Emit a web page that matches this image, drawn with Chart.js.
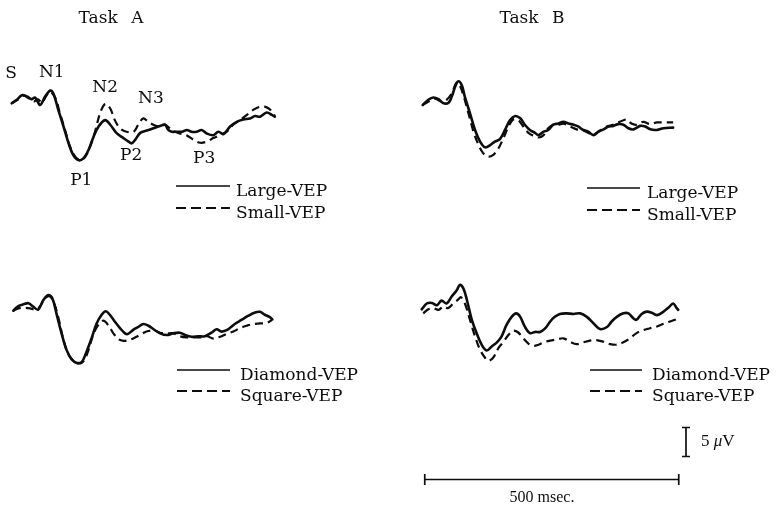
<!DOCTYPE html>
<html><head><meta charset="utf-8">
<script src="https://cdn.jsdelivr.net/npm/chart.js@4.4.0/dist/chart.umd.min.js"></script>
<style>html,body{margin:0;padding:0;background:#fff;}#wrap{position:relative;width:776px;height:508px;}canvas{display:block;}</style>
</head><body><div id="wrap"><canvas id="c" width="776" height="508"></canvas></div>
<script>
// ---------- data (time in ms after stimulus, amplitude in µV, negative = up) ----------
const TITLES = ['Task A', 'Task B'];
const LEGEND_SIZE = ['Large-VEP', 'Small-VEP'];
const LEGEND_SHAPE = ['Diamond-VEP', 'Square-VEP'];
const PEAK_NAMES = ['S', 'N1', 'N2', 'N3', 'P1', 'P2', 'P3'];
const PEAK_T  = [-1, 79, 184, 274, 137, 235, 379];
const PEAK_UV = [-4.4, -4.6, -1.9, 0, 14.1, 9.8, 10.3];
const BAR_MS = 500;
const BAR_UV = 5;

const largeA_t  = [0,10,20,30,39,46,56,66,76,82,92,102,112,121,131,141,151,161,171,184,194,207,220,230,236,243,253,266,279,292,302,308,315,325,335,345,354,364,374,384,397,407,417,430,443,456,469,479,489,502,512,518];
const largeA_uv = [0,-0.6,-1.4,-1.2,-0.7,-1.0,0.3,-1.2,-2.2,-1.7,1.2,4.0,6.9,8.9,9.8,9.5,8.1,5.8,4.0,2.9,3.7,5.2,6.0,6.6,6.9,6.3,5.1,4.7,4.3,3.9,3.7,4.6,4.9,4.9,4.9,4.6,4.9,4.9,4.6,5.2,5.5,4.9,5.3,4.0,3.2,2.8,2.6,2.2,2.3,1.6,2.0,2.3];
const smallA_t  = [0,13,23,33,43,52,59,69,75,85,95,105,115,125,135,144,154,164,174,184,194,203,213,226,240,249,259,269,279,289,302,315,331,344,358,371,384,397,410,423,436,449,463,476,489,502,512,518];
const smallA_uv = [0,-0.7,-1.3,-0.9,-0.3,-0.7,-0.1,-1.4,-2.0,-1.1,1.7,4.6,7.5,9.2,9.8,9.3,7.5,4.9,1.7,0.1,0.9,2.9,4.3,4.9,4.9,3.7,2.6,3.2,3.7,4.0,3.7,4.6,5.2,5.5,6.3,6.8,6.6,6.0,5.5,4.9,3.7,2.9,2.0,1.1,0.6,0.7,1.4,2.2];

const largeB_t  = [0,11,21,31,41,51,57,64,70,77,83,93,103,113,123,133,142,152,162,172,182,192,201,211,221,228,238,247,257,267,277,287,297,306,316,326,336,346,356,366,375,385,395,405,415,428,438,448,461,474,493];
const largeB_uv = [0,-0.9,-1.3,-1.0,-0.3,-0.4,-1.4,-3.2,-4.1,-3.4,-1.4,1.4,4.3,6.3,7.3,6.9,6.3,5.9,4.3,2.6,1.9,2.3,3.4,4.3,4.8,5.2,4.6,4.3,3.4,3.2,2.9,3.2,3.4,3.7,4.3,4.6,5.2,4.6,4.2,3.7,3.6,3.3,3.4,4.0,4.2,3.6,3.7,4.2,4.3,4.0,3.9];
const smallB_t  = [0,14,24,37,47,57,67,73,80,90,100,110,119,129,139,149,159,169,178,188,198,208,218,228,238,247,257,267,277,290,303,316,329,339,349,362,375,388,402,411,421,434,448,461,474,493];
const smallB_uv = [0,-0.7,-1.1,-0.6,-0.9,-2.0,-3.9,-3.4,-1.7,1.4,4.6,6.9,8.3,8.9,8.6,7.5,5.7,3.7,2.5,2.6,3.7,4.8,5.3,5.6,5.2,4.0,3.4,3.4,3.2,3.7,4.2,4.4,4.9,5.0,4.4,3.7,3.4,2.9,2.5,3.2,3.4,2.9,3.3,3.0,3.0,3.0];

const diamondA_t  = [0,10,20,30,39,49,59,69,77,85,95,105,115,125,135,144,154,164,174,182,190,200,210,220,226,236,246,256,266,276,289,302,315,328,338,351,364,377,390,400,410,423,436,449,462,476,486,495,505,510];
const diamondA_uv = [0,-0.8,-1.1,-1.3,-0.7,-0.2,-1.8,-2.7,-2.1,0.5,3.9,6.8,8.4,9.0,8.8,7.1,4.8,2.2,0.7,0.1,0.7,1.9,3.0,3.9,4.0,3.3,2.8,2.3,2.6,3.2,3.9,4.2,3.9,3.8,4.2,4.5,4.4,4.4,3.8,3.2,3.6,3.2,2.3,1.6,0.9,0.3,0.2,0.7,1.1,1.5];
const squareA_t  = [0,10,20,33,43,52,62,71,79,89,98,108,118,130,139,148,157,167,177,187,197,207,217,226,236,249,262,276,289,302,315,328,341,354,367,381,394,407,420,433,446,459,472,486,499,509];
const squareA_uv = [0,-0.4,-0.5,-0.4,-0.2,-0.7,-2.1,-2.5,-1.6,1.3,4.8,7.4,8.6,9.1,8.6,6.8,4.2,2.5,1.7,2.5,3.9,4.9,5.2,5.1,4.8,4.2,3.6,3.4,3.8,3.9,3.9,4.4,4.6,4.6,4.6,4.4,4.8,4.5,4.0,3.6,3.0,2.6,2.3,2.2,2.1,1.6];

const diamondB_t  = [0,10,20,30,39,49,59,69,75,82,89,98,108,118,128,138,148,157,167,177,186,194,203,213,223,233,243,253,262,272,285,299,312,325,338,351,364,374,384,397,407,417,423,433,443,453,463,476,486,495,502,505];
const diamondB_uv = [0,-1.0,-1.1,-0.7,-1.5,-1.0,-2.2,-3.3,-4.2,-3.6,-1.6,1.6,4.1,6.1,7.1,6.4,5.7,4.7,2.7,1.3,0.7,1.3,3.0,4.1,3.9,3.9,3.3,2.1,1.3,0.8,0.7,0.8,0.7,1.3,2.4,3.4,3.1,2.1,1.3,0.7,0.7,1.6,1.8,0.8,0.4,0.6,1.0,0.4,-0.3,-1.0,-0.2,0.1];
const squareB_t  = [3,13,23,33,43,52,62,72,77,85,95,105,115,125,131,141,151,161,171,180,190,200,210,220,230,240,253,266,279,292,305,318,331,344,358,371,384,397,410,423,436,448,462,476,489,505];
const squareB_uv = [0.7,0,-0.2,0.1,-0.5,-0.2,-1.0,-1.7,-2.1,-1.0,1.8,4.7,7.0,8.4,8.9,8.3,6.7,5.6,4.4,3.7,4.0,5.0,5.9,6.3,6.1,5.7,5.4,5.2,5.0,5.6,6.0,5.7,5.4,5.3,5.6,6.0,6.1,5.7,5.0,4.1,3.6,3.3,3.0,2.5,2.1,1.6];

// ---------- layout ----------
const W = 776, H = 508, PX_PER_MS = 0.508, PX_PER_UV = 5.8;
function xScale(originPx) {
  const min = -originPx / PX_PER_MS;
  return { type: 'linear', axis: 'x', display: false, bounds: 'data', min: min, max: min + W / PX_PER_MS };
}
function yScale(basePx) {
  const min = -basePx / PX_PER_UV;
  return { type: 'linear', axis: 'y', display: false, bounds: 'data', reverse: true, min: min, max: min + H / PX_PER_UV };
}
function pts(t, v) { return t.map((x, i) => ({ x: x, y: v[i] })); }

const INK = '#0d0d0d';
const solid = { borderColor: INK, borderWidth: 2.6, pointRadius: 0, tension: 0.35, fill: false, borderJoinStyle: 'round', borderCapStyle: 'round' };
const dashed = { borderColor: INK, borderWidth: 2.2, borderDash: [8, 5], pointRadius: 0, tension: 0.35, fill: false };

const SERIF = '"DejaVu Serif", serif';
const TIMES = '"Liberation Serif", serif';

const annotate = {
  id: 'annotate',
  afterDraw(chart) {
    const ctx = chart.ctx, s = chart.scales;
    ctx.save();
    ctx.fillStyle = INK; ctx.strokeStyle = INK;
    // titles
    ctx.font = '17px ' + SERIF;
    ctx.textAlign = 'center'; ctx.textBaseline = 'alphabetic';
    try { ctx.wordSpacing = '8px'; } catch (e) {}
    ctx.fillText(TITLES[0], 111, 23);
    ctx.fillText(TITLES[1], 532, 23);
    try { ctx.wordSpacing = '0px'; } catch (e) {}
    // peak labels anchored to Task A / size panel
    PEAK_NAMES.forEach((n, i) => {
      ctx.fillText(n, s.xAT.getPixelForValue(PEAK_T[i]), s.yAT.getPixelForValue(PEAK_UV[i]));
    });
    // legends
    function legend(names, x0, x1, tx, y0, y1) {
      ctx.textAlign = 'left';
      ctx.lineWidth = 1.7; ctx.setLineDash([]);
      ctx.beginPath(); ctx.moveTo(x0, y0); ctx.lineTo(x1, y0); ctx.stroke();
      ctx.lineWidth = 2; ctx.setLineDash([10, 5]);
      ctx.beginPath(); ctx.moveTo(x0, y1); ctx.lineTo(x1, y1); ctx.stroke();
      ctx.setLineDash([]);
      ctx.fillText(names[0], tx, y0 + 10);
      ctx.fillText(names[1], tx, y1 + 10);
    }
    legend(LEGEND_SIZE, 176, 230, 236, 186, 208);
    legend(LEGEND_SIZE, 587, 640, 647, 188, 210);
    legend(LEGEND_SHAPE, 177, 230, 240, 370, 391);
    legend(LEGEND_SHAPE, 590, 642, 652, 370, 391);
    // scale bars (lengths from the Task B / shape panel scales)
    const xb = s.xBB, yb = s.yBB;
    const bx0 = xb.getPixelForValue(6), bx1 = xb.getPixelForValue(6 + BAR_MS), by = 479.5;
    ctx.lineWidth = 1.7;
    ctx.beginPath();
    ctx.moveTo(bx0, by); ctx.lineTo(bx1, by);
    ctx.moveTo(bx0, by - 5.5); ctx.lineTo(bx0, by + 5.5);
    ctx.moveTo(bx1, by - 5.5); ctx.lineTo(bx1, by + 5.5);
    ctx.stroke();
    ctx.font = '16px ' + TIMES; ctx.textAlign = 'center';
    ctx.fillText(BAR_MS + ' msec.', 542, 502);
    const vx = 686, vy0 = 427.5, vy1 = vy0 + (yb.getPixelForValue(BAR_UV) - yb.getPixelForValue(0));
    ctx.beginPath();
    ctx.moveTo(vx, vy0); ctx.lineTo(vx, vy1);
    ctx.moveTo(vx - 4, vy0); ctx.lineTo(vx + 4, vy0);
    ctx.moveTo(vx - 4, vy1); ctx.lineTo(vx + 4, vy1);
    ctx.stroke();
    ctx.textAlign = 'left';
    ctx.font = '17px ' + TIMES;
    let tx = 701;
    const a = BAR_UV + ' ';
    ctx.fillText(a, tx, 446); tx += ctx.measureText(a).width;
    ctx.font = 'italic 17px ' + TIMES;
    ctx.fillText('\u03bc', tx, 446); tx += ctx.measureText('\u03bc').width;
    ctx.font = '17px ' + TIMES;
    ctx.fillText('V', tx, 446);
    ctx.restore();
  }
};

new Chart(document.getElementById('c'), {
  type: 'line',
  data: {
    datasets: [
      Object.assign({ label: 'Large-VEP (Task A)', data: pts(largeA_t, largeA_uv), xAxisID: 'xAT', yAxisID: 'yAT' }, solid),
      Object.assign({ label: 'Small-VEP (Task A)', data: pts(smallA_t, smallA_uv), xAxisID: 'xAT', yAxisID: 'yAT' }, dashed),
      Object.assign({ label: 'Large-VEP (Task B)', data: pts(largeB_t, largeB_uv), xAxisID: 'xBT', yAxisID: 'yBT' }, solid),
      Object.assign({ label: 'Small-VEP (Task B)', data: pts(smallB_t, smallB_uv), xAxisID: 'xBT', yAxisID: 'yBT' }, dashed),
      Object.assign({ label: 'Diamond-VEP (Task A)', data: pts(diamondA_t, diamondA_uv), xAxisID: 'xAB', yAxisID: 'yAB' }, solid),
      Object.assign({ label: 'Square-VEP (Task A)', data: pts(squareA_t, squareA_uv), xAxisID: 'xAB', yAxisID: 'yAB' }, dashed),
      Object.assign({ label: 'Diamond-VEP (Task B)', data: pts(diamondB_t, diamondB_uv), xAxisID: 'xBB', yAxisID: 'yBB' }, solid),
      Object.assign({ label: 'Square-VEP (Task B)', data: pts(squareB_t, squareB_uv), xAxisID: 'xBB', yAxisID: 'yBB' }, dashed)
    ]
  },
  options: {
    responsive: false,
    animation: false,
    devicePixelRatio: 1,
    layout: { padding: 0 },
    plugins: { legend: { display: false }, tooltip: { enabled: false }, title: { display: false } },
    scales: {
      xAT: xScale(11.7), yAT: yScale(103.3),
      xBT: xScale(422.7), yBT: yScale(105),
      xAB: xScale(13.3), yAB: yScale(310.7),
      xBB: xScale(421.7), yBB: yScale(309.3)
    }
  },
  plugins: [annotate]
});
</script>
</body></html>
